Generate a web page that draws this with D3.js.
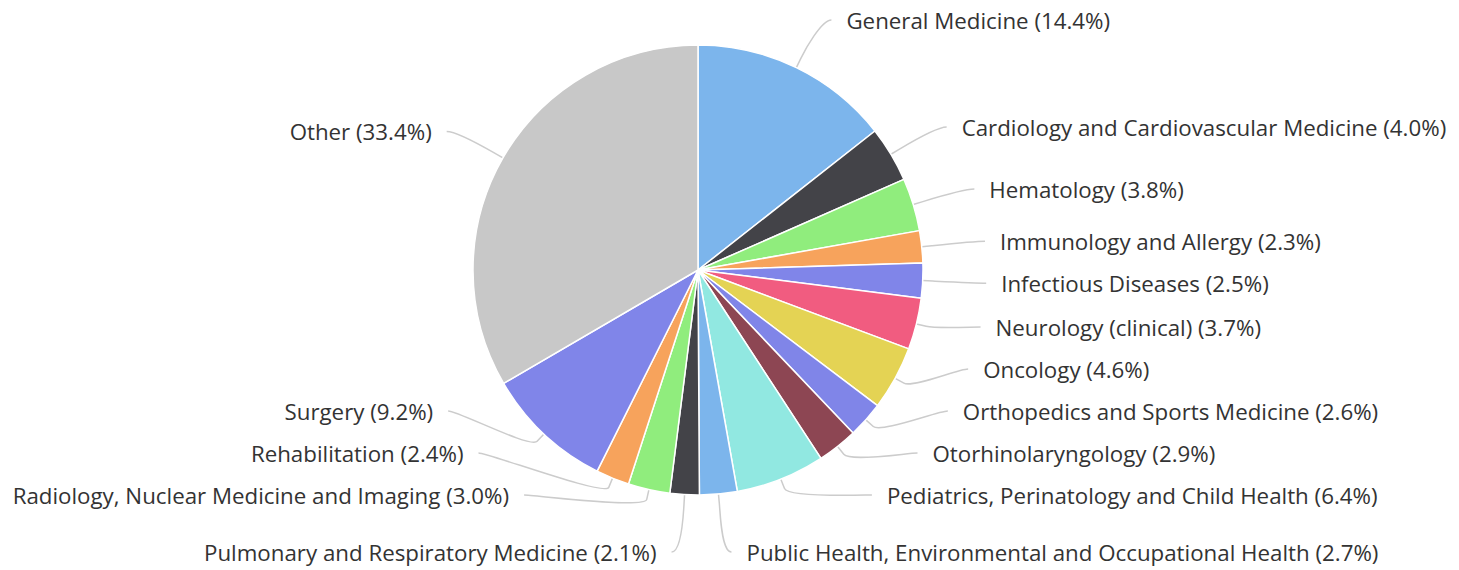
<!DOCTYPE html>
<html>
<head>
<meta charset="utf-8">
<script src="https://cdn.jsdelivr.net/npm/d3@7"></script>
<style>
  body { margin: 0; background: #fff; }
  text { font-family: "Open Sans", sans-serif; }
</style>
</head>
<body>
<div id="chartArea"></div>
<script>
const categories = [
  "General Medicine",
  "Cardiology and Cardiovascular Medicine",
  "Hematology",
  "Immunology and Allergy",
  "Infectious Diseases",
  "Neurology (clinical)",
  "Oncology",
  "Orthopedics and Sports Medicine",
  "Otorhinolaryngology",
  "Pediatrics, Perinatology and Child Health",
  "Public Health, Environmental and Occupational Health",
  "Pulmonary and Respiratory Medicine",
  "Radiology, Nuclear Medicine and Imaging",
  "Rehabilitation",
  "Surgery",
  "Other"
];
const shares = [14.4, 4.0, 3.8, 2.3, 2.5, 3.7, 4.6, 2.6, 2.9, 6.4, 2.7, 2.1, 3.0, 2.4, 9.2, 33.4];

const palette = ["#7cb5ec", "#434348", "#90ed7d", "#f7a35c", "#8085e9",
                 "#f15c80", "#e4d354", "#8085e8", "#8d4653", "#91e8e1"];
const otherColor = "#c8c8c8";

(function() {
  const W = 1459, H = 570;
  const cx = 698, cy = 270, r = 225;
  const labelR = 278;       // natural label radius
  const edgeA = 288.5, edgeB = 282; // ellipse for connector ends
  const gap = 42;
  const top = 17 - cy, bottom = 495 - cy, lowest = 552 - cy;

  const data = categories.map((c, i) => ({
    name: c,
    value: shares[i],
    color: c === "Other" ? otherColor : palette[i % palette.length]
  }));

  const svg = d3.select("#chartArea")
    .append("svg")
    .attr("width", W)
    .attr("height", H);

  const g = svg.append("g").attr("transform", "translate(" + cx + "," + cy + ")");

  const arcs = d3.pie().sort(null).value(d => d.value)(data);
  const arc = d3.arc().innerRadius(0).outerRadius(r);

  // label layout
  const labels = arcs.map(a => {
    const mid = (a.startAngle + a.endAngle) / 2;
    return {
      a: a,
      mid: mid,
      right: mid < Math.PI,
      bottomLabel: Math.abs(mid - Math.PI) < 10 * Math.PI / 180,
      t: -Math.cos(mid) * labelR
    };
  });

  function distribute(items) {
    items.sort((p, q) => p.t - q.t);
    let groups = items.map(it => ({ items: [it] }));
    const place = grp => {
      const n = grp.items.length;
      const mean = d3.mean(grp.items, d => d.t);
      let start = mean - (n - 1) * gap / 2;
      start = Math.max(top, Math.min(bottom - (n - 1) * gap, start));
      grp.start = start;
      grp.end = start + (n - 1) * gap;
    };
    groups.forEach(place);
    let merged = true;
    while (merged) {
      merged = false;
      for (let i = 0; i < groups.length - 1; i++) {
        if (groups[i + 1].start - groups[i].end < gap) {
          groups[i].items = groups[i].items.concat(groups[i + 1].items);
          groups.splice(i + 1, 1);
          place(groups[i]);
          merged = true;
          break;
        }
      }
    }
    groups.forEach(grp => grp.items.forEach((it, k) => { it.y = grp.start + k * gap; }));
  }

  distribute(labels.filter(l => l.right && !l.bottomLabel));
  distribute(labels.filter(l => !l.right && !l.bottomLabel));

  labels.forEach(l => {
    const s = l.right ? 1 : -1;
    const ax = Math.sin(l.mid) * r, ay = -Math.cos(l.mid) * r;
    if (l.bottomLabel) {
      l.y = lowest;
      l.xe = ax + s * 13;
    } else {
      const k = Math.max(0, 1 - Math.pow(l.y / edgeB, 2));
      l.xe = s * edgeA * Math.sqrt(k);
    }
    l.tx = l.xe + s * 15;
    const off = 10;
    const bx = Math.sin(l.mid) * (r + off), by = -Math.cos(l.mid) * (r + off);
    l.path = "M" + l.xe + "," + l.y +
      "C" + (l.xe - s * 10) + "," + l.y + " " + (2 * bx - ax) + "," + (2 * by - ay) +
      " " + bx + "," + by + "L" + ax + "," + ay;
  });

  g.selectAll("path.connector")
    .data(labels)
    .enter()
    .append("path")
    .attr("class", "connector")
    .attr("d", d => d.path)
    .attr("fill", "none")
    .attr("stroke", "#cccccc")
    .attr("stroke-width", 1.5);

  g.selectAll("path.slice")
    .data(arcs)
    .enter()
    .append("path")
    .attr("class", "slice")
    .attr("d", arc)
    .attr("fill", d => d.data.color)
    .attr("stroke", "#fff")
    .attr("stroke-width", 1.5)
    .attr("stroke-linejoin", "round");

  g.selectAll("text.label")
    .data(labels)
    .enter()
    .append("text")
    .attr("class", "label")
    .attr("x", d => d.tx)
    .attr("y", d => d.y)
    .attr("dy", "0.4em")
    .attr("text-anchor", d => d.right ? "start" : "end")
    .attr("fill", "#333")
    .style("font-size", "22.3px")
    .text(d => d.a.data.name + " (" + d.a.data.value.toFixed(1) + "%)");
})();
</script>
</body>
</html>
